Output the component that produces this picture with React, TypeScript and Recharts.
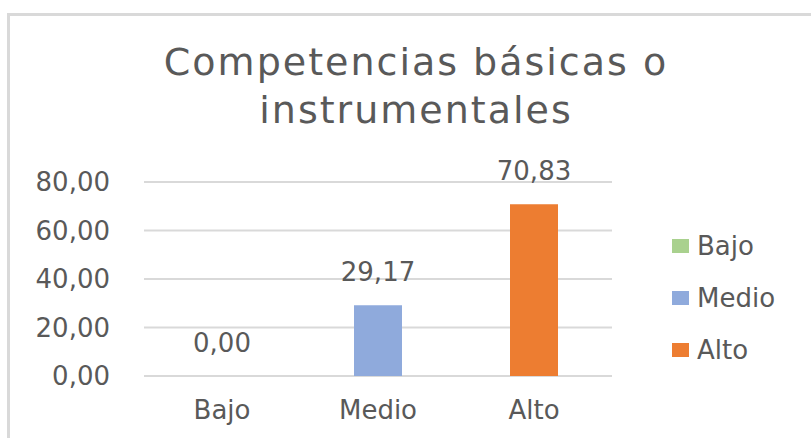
import { BarChart, Bar, XAxis, YAxis, CartesianGrid, Cell, LabelList } from 'recharts'

const categories = ['Bajo', 'Medio', 'Alto']
const values = [0, 29.17, 70.83]
const colors = ['#a9d18e', '#8faadc', '#ed7d31']
const yTicks = [0, 20, 40, 60, 80]
const titleLines = ['Competencias básicas o', 'instrumentales']

const FONT = '"DejaVu Sans", sans-serif'
const TEXT = '#595959'

const fmt = (v: number) => v.toFixed(2).replace('.', ',')

function LegendBox() {
  return (
    <div style={{ position: 'absolute', left: 672, top: 220, fontFamily: FONT, fontSize: 26, color: TEXT }}>
      {categories.map((c, i) => (
        <div key={c} style={{ display: 'flex', alignItems: 'center', height: 52 }}>
          <span style={{ display: 'inline-block', width: 17, height: 14, background: colors[i], marginRight: 8 }} />
          <span style={{ lineHeight: '52px' }}>{c}</span>
        </div>
      ))}
    </div>
  )
}

export default function App() {
  const data = categories.map((name, i) => ({ name, value: values[i] }))
  return (
    <div style={{ position: 'absolute', left: 0, top: 0, width: 811, height: 438, background: '#fff', overflow: 'hidden' }}>
      <div
        style={{
          position: 'absolute', left: 7, top: 13, width: 900, height: 600,
          borderLeft: '3px solid #d9d9d9', borderTop: '3px solid #d9d9d9',
        }}
      />
      <div
        style={{
          position: 'absolute', left: 0, width: 832, top: 38, textAlign: 'center',
          fontFamily: FONT, fontSize: 38, letterSpacing: 2, lineHeight: '48px', color: TEXT,
        }}
      >
        {titleLines.map((l) => <div key={l}>{l}</div>)}
      </div>
      <div style={{ position: 'absolute', left: 0, top: 0 }}>
        <BarChart width={811} height={438} data={data} margin={{ top: 182, right: 199, bottom: 0, left: 0 }}>
          <CartesianGrid vertical={false} stroke="#d9d9d9" strokeWidth={2} />
          <XAxis
            dataKey="name" height={62} axisLine={false} tickLine={false} tickSize={0} tickMargin={25}
            tick={{ fill: TEXT, fontSize: 26, fontFamily: FONT }}
          />
          <YAxis
            width={144} domain={[0, 80]} ticks={yTicks} axisLine={false} tickLine={false} tickSize={0} tickMargin={34}
            tickFormatter={fmt} tick={{ fill: TEXT, fontSize: 26, fontFamily: FONT }}
          />
          <Bar dataKey="value" barSize={48} isAnimationActive={false} minPointSize={(v: any) => (Number(v) === 0 ? 0.01 : 0)}>
            {data.map((d, i) => <Cell key={d.name} fill={colors[i]} />)}
            <LabelList dataKey="value" position="top" offset={24} formatter={(v: any) => fmt(Number(v))}
              style={{ fill: TEXT, fontSize: 26, fontFamily: FONT }} />
          </Bar>
        </BarChart>
      </div>
      <LegendBox />
    </div>
  )
}
